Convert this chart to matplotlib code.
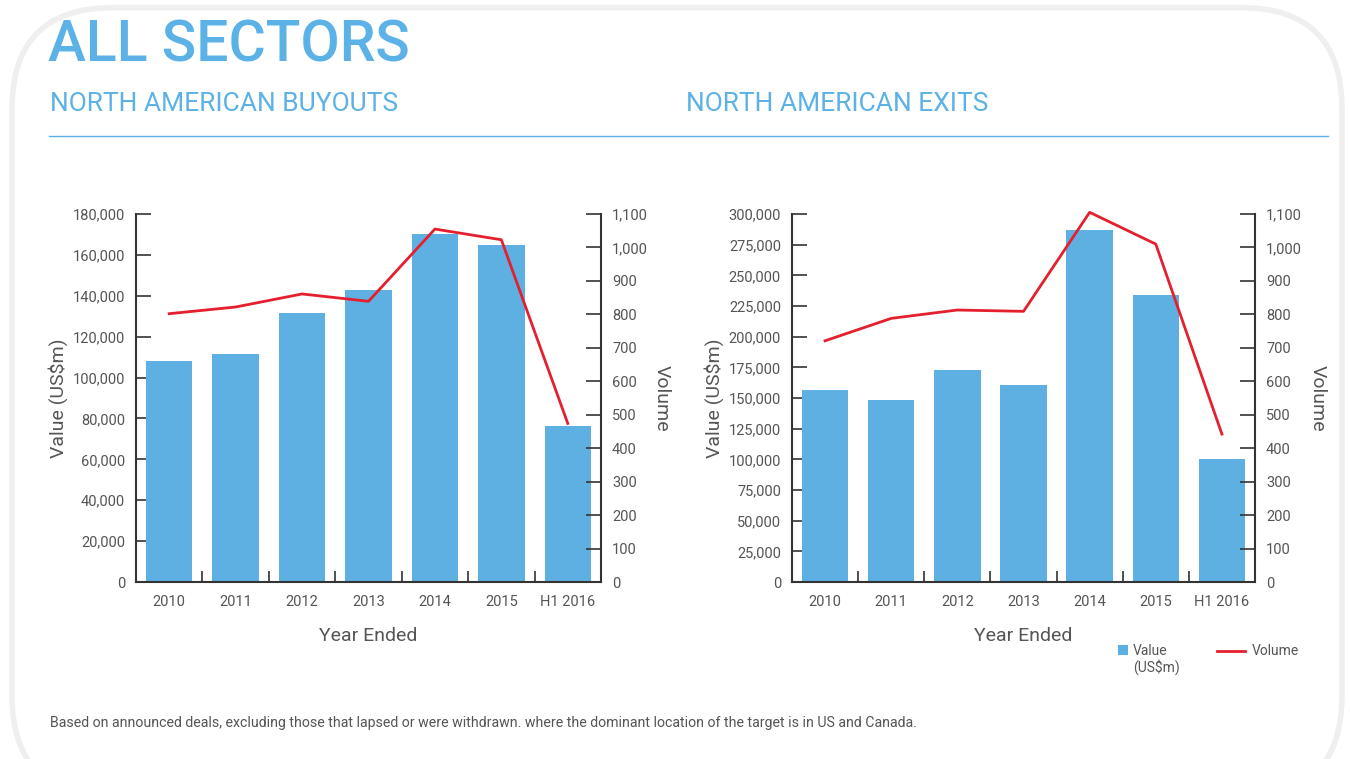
import matplotlib
matplotlib.use('Agg')
import matplotlib.pyplot as plt
from matplotlib.patches import FancyBboxPatch
from matplotlib.lines import Line2D

# --- Daten ---
years = ['2010', '2011', '2012', '2013', '2014', '2015', 'H1 2016']

buyout_value = [108000, 111700, 131700, 143000, 170000, 165000, 76300]
buyout_volume = [802, 822, 861, 839, 1055, 1023, 474]

exit_value = [156400, 148500, 173200, 160500, 287300, 234100, 100300]
exit_volume = [721, 788, 813, 809, 1105, 1010, 442]

BLUE = '#5eb0e3'
RED = '#e5202e'
TEXT = '#555555'
TITLE_BLUE = '#5cb2e6'

plt.rcParams['font.family'] = ['Roboto', 'DejaVu Sans']

W, H = 1350, 759
fig = plt.figure(figsize=(W / 100, H / 100), dpi=100)
fig.patch.set_facecolor('white')


def px(x, y, w, h):
    # Pixel-Box (oben-links Ursprung) -> Figure-Koordinaten
    return [x / W, 1 - (y + h) / H, w / W, h / H]


# Rahmen mit abgerundeten Ecken (hinter allem)
frame = FancyBboxPatch((12 / W, -0.05), (W - 20) / W, 1.04,
                       boxstyle='round,pad=0,rounding_size=0.075',
                       transform=fig.transFigure, facecolor='white',
                       edgecolor='#efefef', linewidth=4, zorder=-10,
                       mutation_aspect=W / H)
fig.patches.append(frame)

# Titel
fig.text(48 / W, 1 - 62 / H, 'ALL SECTORS', color=TITLE_BLUE, fontsize=41,
         fontweight='medium', ha='left', va='baseline')
fig.text(50 / W, 1 - 111 / H, 'NORTH AMERICAN BUYOUTS', color=TITLE_BLUE,
         fontsize=19, ha='left', va='baseline')
fig.text(686 / W, 1 - 111 / H, 'NORTH AMERICAN EXITS', color=TITLE_BLUE,
         fontsize=19, ha='left', va='baseline')
fig.add_artist(Line2D([49 / W, 1328 / W], [1 - 136 / H, 1 - 136 / H],
                      transform=fig.transFigure, color=TITLE_BLUE, lw=1))


def draw_chart(box, values, volumes, vmax, vstep, label_x_left, label_x_right):
    ax = fig.add_axes(px(*box))
    x = range(len(years))
    ax.bar(x, values, width=0.7, color=BLUE, zorder=2)
    ax.set_xlim(-0.5, len(years) - 0.5)
    ax.set_ylim(0, vmax)
    ax.set_yticks(range(0, vmax + 1, vstep))
    ax.set_yticklabels([f'{v:,}' for v in range(0, vmax + 1, vstep)])
    ax.set_xticks(list(x))
    ax.set_xticklabels(years)
    ax.set_xticks([i + 0.5 for i in range(len(years) - 1)], minor=True)
    ax.tick_params(axis='x', which='major', length=0, pad=9, labelsize=10.5,
                   colors=TEXT)
    ax.tick_params(axis='x', which='minor', direction='in', length=8,
                   width=1.2, color='#333333')
    ax.tick_params(axis='y', direction='in', length=11, width=1.2,
                   color='#333333', labelcolor=TEXT, labelsize=10.5, pad=8)
    for s in ['top', 'right']:
        ax.spines[s].set_visible(False)
    for s in ['left', 'bottom']:
        ax.spines[s].set_color('#333333')
        ax.spines[s].set_linewidth(1.5)
    ax.set_xlabel('Year Ended', fontsize=14, color=TEXT, labelpad=13)

    ax2 = ax.twinx()
    ax2.plot(list(x), volumes, color=RED, lw=2, zorder=3, clip_on=False)
    ax2.set_ylim(0, 1100)
    ax2.set_yticks(range(0, 1101, 100))
    ax2.set_yticklabels([f'{v:,}' for v in range(0, 1101, 100)])
    ax2.tick_params(axis='y', direction='in', length=11, width=1.2,
                    color='#333333', labelcolor=TEXT, labelsize=10.5, pad=8)
    for s in ['top', 'left', 'bottom']:
        ax2.spines[s].set_visible(False)
    ax2.spines['right'].set_color('#333333')
    ax2.spines['right'].set_linewidth(1.5)

    cy = 1 - 398 / H
    fig.text(label_x_left / W, cy, 'Value (US$m)', rotation=90, fontsize=14,
             color=TEXT, ha='center', va='center')
    fig.text(label_x_right / W, cy, 'Volume', rotation=270, fontsize=14,
             color=TEXT, ha='center', va='center')
    return ax


draw_chart((136, 214, 465, 368), buyout_value, buyout_volume, 180000, 20000,
           58, 662)
draw_chart((792, 214, 463, 368), exit_value, exit_volume, 300000, 25000,
           714, 1318)

# Legende
fig.patches.append(FancyBboxPatch((1118 / W, 1 - 655 / H), 10 / W, 10 / H,
                                  boxstyle='square,pad=0', transform=fig.transFigure,
                                  facecolor=BLUE, edgecolor='none'))
fig.text(1133 / W, 1 - 644 / H, 'Value\n(US$m)', fontsize=10, color=TEXT,
         ha='left', va='top', linespacing=1.05)
fig.add_artist(Line2D([1217 / W, 1245 / W], [1 - 651 / H, 1 - 651 / H],
                      transform=fig.transFigure, color=RED, lw=2))
fig.text(1252 / W, 1 - 644 / H, 'Volume', fontsize=10, color=TEXT,
         ha='left', va='top')

# Fußnote
fig.text(50 / W, 1 - 727 / H,
         'Based on announced deals, excluding those that lapsed or were withdrawn. '
         'where the dominant location of the target is in US and Canada.',
         fontsize=10.2, color=TEXT, ha='left', va='baseline')

fig.savefig('out.png', dpi=100)
